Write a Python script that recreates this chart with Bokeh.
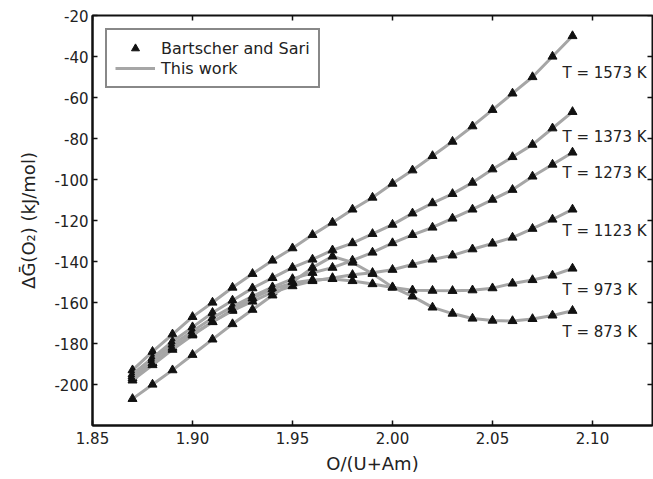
import math
from bokeh.plotting import figure
from bokeh.models import Range1d, Legend, LegendItem, FixedTicker, ColumnDataSource
from bokeh.core.properties import value
from bokeh.embed import file_html
from bokeh.resources import INLINE

# O/(U+Am) ratio
om = [1.87, 1.88, 1.89, 1.90, 1.91, 1.92, 1.93, 1.94, 1.95, 1.96, 1.97, 1.98,
      1.99, 2.00, 2.01, 2.02, 2.03, 2.04, 2.05, 2.06, 2.07, 2.08, 2.09]

g1573 = [-193, -184, -175.5, -167, -160, -152.7, -146, -139.5, -133.5, -127, -121, -114.6,
         -108.8, -102, -95.5, -88.5, -81.5, -74, -66, -58, -50, -40, -30]
g1373 = [-195, -187, -179, -172, -165, -159, -153, -148, -143, -139, -134.5, -131,
         -126.5, -122, -116.5, -111.5, -107, -101.5, -95, -89, -83, -75, -67]
g1273 = [-196, -188, -180.5, -174, -167.5, -162, -157, -152.5, -148.5, -145.5, -143, -139.5,
         -135.6, -131, -127, -123.4, -119, -114.6, -109.8, -105, -98.5, -92.7, -86.8]
g1123 = [-197, -189.5, -182, -175.5, -169.5, -164, -159.5, -155, -152, -149.5, -148, -146.5,
         -145.5, -144, -141.5, -139, -137, -134, -131.2, -128.3, -124, -119.5, -114.6]
g973 = [-198, -190.5, -183, -176, -169.5, -163.5, -158, -153.5, -150.5, -149, -148.5, -149.5,
        -151, -152.7, -154, -154.2, -154.3, -154, -153, -150.7, -149, -146.8, -143.4]
g873 = [-207, -200, -193, -185.5, -178, -170.5, -163.5, -156.5, -150, -143, -137.5, -140.5,
        -146, -152.5, -157, -162.4, -165.4, -167.8, -168.8, -169, -168, -166.3, -164]

series = [g1573, g1373, g1273, g1123, g973, g873]
temp_labels = ["T = 1573 K", "T = 1373 K", "T = 1273 K", "T = 1123 K", "T = 973 K", "T = 873 K"]
label_x = [2.085, 2.085, 2.085, 2.085, 2.085, 2.085]
label_y = [-48, -79.5, -96.6, -125, -154, -174.6]

x_ticks = [1.85, 1.90, 1.95, 2.00, 2.05, 2.10]
y_ticks = [-200, -180, -160, -140, -120, -100, -80, -60, -40, -20]

X0, X1 = 1.85, 2.13
Y0, Y1 = -220, -20
FONT = "DejaVu Sans"
INK = "#111111"

p = figure(width=653, height=479, output_backend="svg", toolbar_location=None,
           x_range=Range1d(X0, X1), y_range=Range1d(Y0, Y1),
           min_border_left=92, min_border_right=1, min_border_top=15, min_border_bottom=54)
p.grid.visible = False
p.background_fill_color = "white"
p.border_fill_color = "white"
p.outline_line_color = INK
p.outline_line_width = 2

line_rs = []
scat_rs = []
for s in series:
    src = ColumnDataSource(dict(x=om, y=s))
    lr = p.line("x", "y", source=src, line_color="#a6a6a6", line_width=3)
    sr = p.scatter("x", "y", source=src, marker="triangle", size=9,
                   fill_color=INK, line_color=INK, line_width=1)
    line_rs.append(lr)
    scat_rs.append(sr)

lsrc = ColumnDataSource(dict(x=label_x, y=label_y, t=temp_labels))
p.text("x", "y", text="t", source=lsrc, text_font=value(FONT), text_font_size="15px",
       text_color="#222222", text_align="left", text_baseline="middle")

# inward tick marks on the top and right edges of the box (clipped to the frame)
p.scatter(x_ticks, [Y1] * len(x_ticks), marker="dash", size=10, angle=math.pi / 2,
          line_color=INK, line_width=1.5)
p.scatter([X1] * len(y_ticks), y_ticks, marker="dash", size=10,
          line_color=INK, line_width=1.5)

def style_axis(ax):
    ax.axis_line_width = 2
    ax.axis_line_color = INK
    ax.major_tick_in = 5
    ax.major_tick_out = 0
    ax.minor_tick_line_color = None
    ax.major_tick_line_color = INK
    ax.major_tick_line_width = 1.5
    ax.major_label_text_font = FONT
    ax.major_label_text_font_size = "15px"
    ax.major_label_text_color = "#222222"
    ax.axis_label_text_font = FONT
    ax.axis_label_text_font_size = "18px"
    ax.axis_label_text_font_style = "normal"
    ax.axis_label_text_color = "#222222"

xa = p.xaxis[0]
xa.ticker = FixedTicker(ticks=x_ticks)
xa.major_label_overrides = {t: f"{t:.2f}" for t in x_ticks}
xa.axis_label = "O/(U+Am)"
xa.major_label_standoff = 6
xa.axis_label_standoff = 6
style_axis(xa)

ya = p.yaxis[0]
ya.ticker = FixedTicker(ticks=y_ticks)
ya.major_label_overrides = {t: str(t) for t in y_ticks}
ya.axis_label = "\u0394\u1E20(O\u2082) (kJ/mol)"
ya.major_label_standoff = 4
ya.axis_label_standoff = 12
style_axis(ya)

legend = Legend(items=[
    LegendItem(label="Bartscher and Sari", renderers=[scat_rs[0]]),
    LegendItem(label="This work", renderers=[line_rs[0]]),
], location="top_left")
legend.margin = 13
legend.border_line_color = INK
legend.border_line_width = 2
legend.label_text_font = FONT
legend.label_text_font_size = "16px"
legend.label_text_color = "#222222"
legend.glyph_width = 40
legend.glyph_height = 20
legend.spacing = 0
legend.padding = 8
legend.label_standoff = 6
legend.background_fill_alpha = 1
p.add_layout(legend)

open("out.html", "w").write(file_html(p, INLINE))
